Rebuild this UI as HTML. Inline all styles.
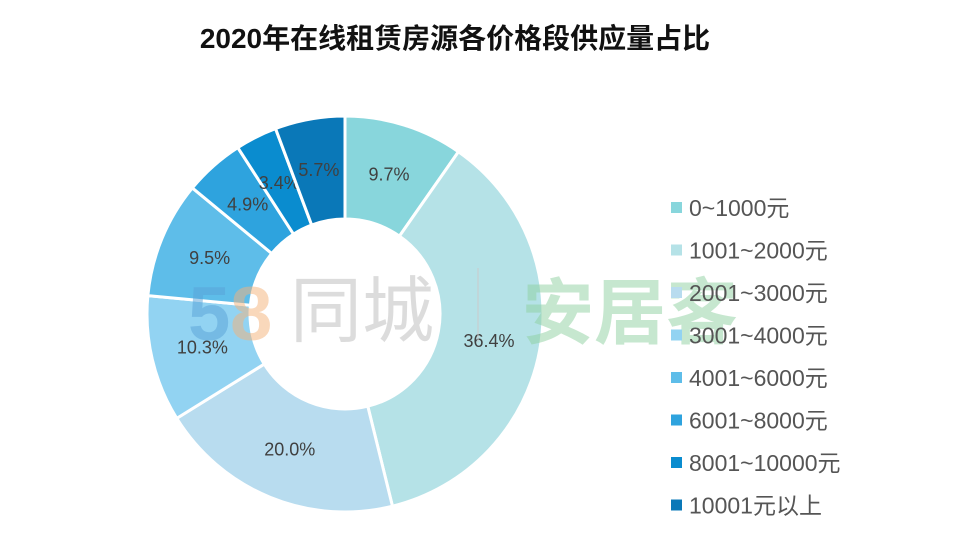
<!DOCTYPE html>
<html><head><meta charset="utf-8"><style>
body{margin:0;background:#fff;width:967px;height:553px;overflow:hidden;font-family:"Liberation Sans","Noto Sans CJK SC",sans-serif}
</style></head><body>
<svg id="s" width="967" height="553" xmlns="http://www.w3.org/2000/svg">
<text x="455" y="48" text-anchor="middle" font-size="28" font-weight="bold" fill="#111" font-family="Liberation Sans,Noto Sans CJK SC,sans-serif">2020年在线租赁房源各价格段供应量占比</text>
<g id="pie"></g>
<g opacity="0.5" font-family="Liberation Sans,Noto Sans CJK SC,sans-serif">
<text x="188" y="340" font-size="76" font-weight="bold" fill="#5aa3d8">5</text>
<text x="230" y="340" font-size="76" font-weight="bold" fill="#f5b27a">8</text>
<text x="290" y="336" font-size="72" fill="#bbb">同城</text>
<line x1="478" y1="268" x2="478" y2="342" stroke="#ccc" stroke-width="2"/>
<text x="522" y="338" font-size="72" font-weight="bold" fill="#8fd1a0">安居客</text>
</g>
<g id="lg" font-family="Liberation Sans,Noto Sans CJK SC,sans-serif" font-size="23" fill="#555"></g>
</svg>
<script>
var v=[9.7,36.4,20.0,10.3,9.5,4.9,3.4,5.7];
var c=["#88d6dc","#b5e2e7","#b8dcef","#92d3f2","#5ebde9","#2ea3de","#0a8ccf","#0a78b8"];
var n=["0~1000元","1001~2000元","2001~3000元","3001~4000元","4001~6000元","6001~8000元","8001~10000元","10001元以上"];
var cx=345,cy=314,R=198,r=95,tot=99.9,a=0,g=document.getElementById("pie"),h="";
function p(rad,ang){return [cx+rad*Math.sin(ang),cy-rad*Math.cos(ang)];}
for(var i=0;i<8;i++){var a0=a/tot*2*Math.PI;a+=v[i];var a1=a/tot*2*Math.PI;var lg=(a1-a0)>Math.PI?1:0;
var A=p(R,a0),B=p(R,a1),C=p(r,a1),D=p(r,a0);
h+='<path d="M'+A+' A'+R+' '+R+' 0 '+lg+' 1 '+B+' L'+C+' A'+r+' '+r+' 0 '+lg+' 0 '+D+'Z" fill="'+c[i]+'" stroke="#fff" stroke-width="3"/>';
var m=p((R+r)/2,(a0+a1)/2);
h+='<text x="'+m[0]+'" y="'+(m[1]+6)+'" text-anchor="middle" font-size="18" fill="#404040" font-family="Liberation Sans,sans-serif">'+v[i].toFixed(1)+'%</text>';}
g.innerHTML=h;
var l="";for(var i=0;i<8;i++){var y=208+i*42.5;l+='<rect x="671" y="'+(y-6)+'" width="11" height="11" fill="'+c[i]+'"/><text x="689" y="'+(y+8)+'">'+n[i]+'</text>';}
document.getElementById("lg").innerHTML=l;
</script>
</body></html>
